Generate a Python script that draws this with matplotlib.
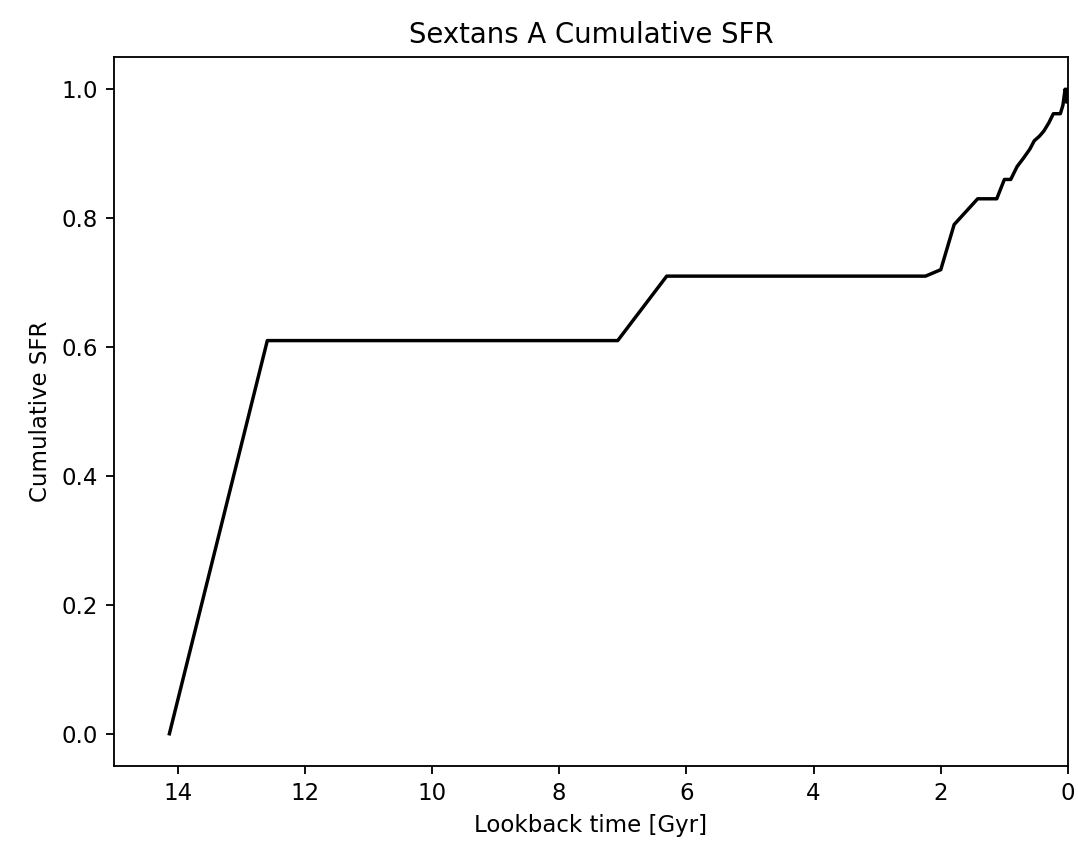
import matplotlib
matplotlib.use("Agg")
import matplotlib.pyplot as plt

# lookback time of each bin edge [Gyr] and the cumulative SFR fraction there
lookback = [14.13, 12.59, 7.08, 6.31, 2.24, 2.00, 1.79, 1.42, 1.12, 1.00,
            0.90, 0.80, 0.70, 0.60, 0.53, 0.45, 0.38, 0.30, 0.23, 0.12,
            0.08, 0.045, 0.025, 0.0]
cum_sfr = [0.0, 0.61, 0.61, 0.71, 0.71, 0.72, 0.79, 0.83, 0.83, 0.86,
           0.86, 0.88, 0.893, 0.907, 0.92, 0.927, 0.935, 0.948, 0.962, 0.962,
           0.975, 1.0, 0.98, 1.0]

fig = plt.figure(figsize=(1078 / 165, 853 / 165), dpi=165)
ax = fig.add_axes([0.1058, 0.1020, 0.8849, 0.8312])
ax.plot(lookback, cum_sfr, color='k')
ax.set_xlim(15, 0)
ax.set_xlabel('Lookback time [Gyr]')
ax.set_ylabel('Cumulative SFR')
ax.set_title('Sextans A Cumulative SFR')

fig.savefig('out.png', dpi=165)
